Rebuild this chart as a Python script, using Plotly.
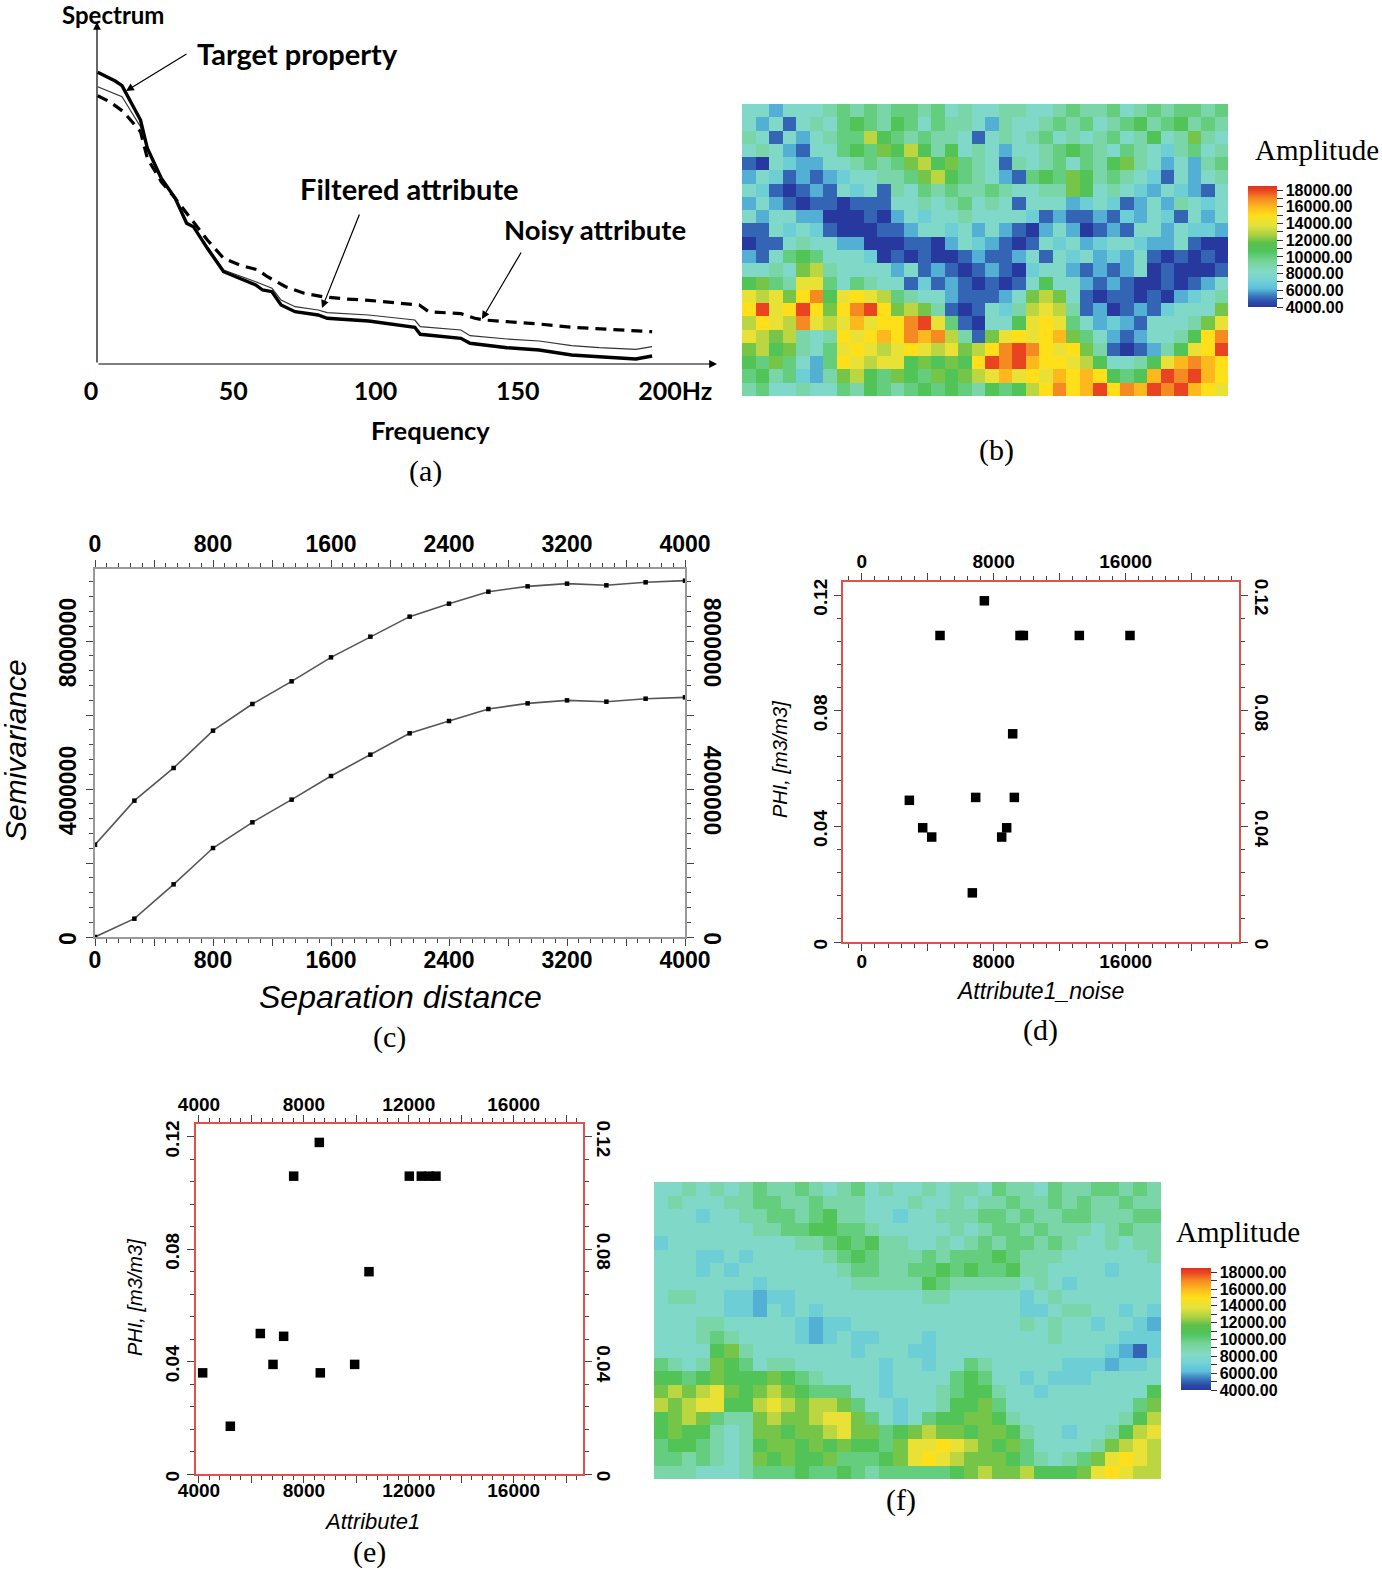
import numpy as np
import plotly.graph_objects as go

W, H = 1382, 1570

# panel (a) spectra
freq_target = [2.35, 8.5, 10.9, 14.2, 17.4, 19.8, 24.7, 29.6, 33.6, 36.0, 40.9, 46.6, 52.2, 57.9, 60.3, 63.6, 66.8,
               71.7, 79.8, 83.0, 97.6, 105.7, 113.8, 115.7, 130.0, 133.2, 146.2, 157.5, 168.9, 178.6, 191.5, 197.2]
spec_target = [291.7, 283, 278.3, 260.7, 244, 215.7, 185.7, 165.7, 140.7, 137.3, 115.7, 92.3, 85.7, 79, 74, 72.3, 59,
               52.3, 49, 45.7, 43, 39.7, 36.7, 29.7, 25.7, 20.7, 16.3, 14, 9, 7.3, 5, 8]
freq_filtered = [2.35, 10.9, 14.2, 17.4, 19.8, 24.7, 29.6, 33.6, 36.0, 40.9, 46.6, 57.9, 63.6, 66.8, 71.7, 79.8, 83.0,
                 97.6, 105.7, 113.8, 115.7, 130.0, 133.2, 146.2, 157.5, 168.9, 178.6, 191.5, 197.2]
spec_filtered = [277.3, 267.3, 252, 237.3, 215.7, 185.7, 165.7, 140.7, 137.3, 116.7, 94, 82.3, 75.7, 64, 57.3, 54, 51.3,
                 49, 46.3, 44, 37.3, 34, 28.3, 25, 23, 18.3, 16.3, 14.7, 17.3]
freq_noisy = [2.35, 6.9, 11.4, 17.4, 19.8, 24.7, 29.6, 36.0, 40.9, 46.6, 52.2, 58.7, 62.0, 68.4, 74.9, 81.4, 89.5,
              97.6, 105.7, 115.4, 118.7, 130.0, 134.9, 138.1, 146.2, 157.5, 168.9, 178.6, 191.5, 197.2]
spec_noisy = [268.3, 261.7, 252.3, 232.3, 205.7, 182.3, 165.7, 142.3, 124, 105.7, 99, 94, 87.3, 77.3, 70.7, 67.3, 65,
              63.7, 61.7, 59, 52.3, 50.3, 45.7, 44, 42.3, 40, 36.7, 35, 33, 32.3]
freq_ticks = [0, 50, 100, 150, 205.3]
freq_labels = ["0", "50", "100", "150", "200Hz"]

# panel (c) semivariograms
lag = [0, 267, 533, 800, 1067, 1333, 1600, 1867, 2133, 2400, 2667, 2933, 3200, 3467, 3733, 4000]
semi_upper = [2495000, 3685000, 4568000, 5577000, 6297000, 6910000, 7558000, 8117000, 8658000, 9009000, 9333000,
              9477000, 9550000, 9505000, 9586000, 9631000]
semi_lower = [0, 495000, 1423000, 2405000, 3099000, 3712000, 4351000, 4928000, 5505000, 5838000, 6162000, 6315000,
              6396000, 6360000, 6441000, 6477000]
lag_ticks = list(range(0, 4001, 400))
lag_labels = ["0", "", "800", "", "1600", "", "2400", "", "3200", "", "4000"]
semi_ticks = list(range(0, 10000001, 2000000))
semi_labels = ["0", "", "4000000", "", "8000000", ""]

# panels (d), (e) crossplots
noise_x = [4747, 7434, 9595, 9797, 13190, 16261, 9151, 2889, 6908, 9252, 3697, 4242, 8787, 8484, 6706]
noise_y = [0.106, 0.118, 0.106, 0.106, 0.106, 0.106, 0.072, 0.049, 0.05, 0.05, 0.0395, 0.0363, 0.0395, 0.0363, 0.017]
attr_x = [4140, 5195, 6339, 7228, 6822, 7610, 8588, 8626, 9936, 10482, 12020, 12478, 12780, 13037]
attr_y = [0.036, 0.017, 0.05, 0.049, 0.039, 0.106, 0.118, 0.036, 0.039, 0.072, 0.106, 0.106, 0.106, 0.106]
phi_ticks = [0, 0.04, 0.08, 0.12]
phi_labels = ["0", "0.04", "0.08", "0.12"]
noise_ticks = list(range(0, 24001, 4000))
noise_labels = ["0", "", "8000", "", "16000", "", ""]
attr_ticks = list(range(4000, 18001, 2000))
attr_labels = ["4000", "", "8000", "", "12000", "", "16000", ""]

# amplitude maps, thousands on a coarse grid
amp_noisy = [
    [8, 8, 6, 8, 8, 8, 9, 10, 9, 10, 9, 10, 10, 9, 10, 8, 9, 8, 8, 9, 9, 8, 8, 9, 10, 9, 9, 10, 8, 9, 10, 9, 10, 10, 9, 10],
    [8, 6, 8, 5, 8, 9, 8, 10, 11, 10, 9, 11, 10, 8, 10, 9, 9, 8, 6, 9, 8, 8, 9, 10, 9, 10, 8, 9, 10, 11, 9, 10, 11, 9, 10, 9],
    [9, 8, 5, 8, 6, 8, 9, 10, 10, 13, 11, 10, 9, 10, 9, 9, 8, 5, 8, 9, 8, 9, 10, 8, 9, 8, 9, 10, 8, 9, 11, 8, 9, 12, 9, 8],
    [8, 9, 8, 6, 5, 8, 8, 10, 11, 10, 12, 11, 13, 11, 9, 11, 8, 9, 8, 6, 8, 8, 9, 10, 11, 10, 9, 8, 10, 9, 8, 7, 9, 10, 8, 9],
    [5, 4, 8, 7, 6, 6, 8, 8, 9, 10, 9, 10, 12, 13, 11, 12, 10, 9, 8, 5, 9, 8, 9, 10, 8, 10, 9, 11, 12, 9, 8, 6, 8, 6, 9, 10],
    [6, 8, 7, 5, 6, 5, 6, 7, 8, 8, 9, 9, 10, 12, 13, 11, 10, 9, 8, 6, 5, 10, 11, 10, 12, 11, 9, 10, 9, 8, 7, 5, 8, 6, 8, 9],
    [8, 7, 5, 4, 5, 6, 5, 8, 7, 8, 5, 9, 8, 10, 9, 10, 9, 9, 10, 9, 8, 8, 9, 9, 12, 11, 8, 9, 8, 7, 6, 8, 7, 6, 5, 8],
    [6, 8, 6, 5, 4, 5, 5, 4, 5, 5, 5, 8, 8, 9, 8, 9, 10, 8, 9, 8, 5, 8, 8, 8, 6, 7, 8, 7, 5, 6, 8, 6, 9, 8, 7, 8],
    [8, 6, 8, 8, 6, 6, 4, 4, 4, 5, 4, 6, 8, 7, 8, 8, 9, 8, 8, 8, 8, 7, 5, 6, 5, 5, 6, 5, 7, 6, 8, 7, 5, 8, 6, 8],
    [5, 5, 8, 7, 8, 7, 5, 4, 4, 4, 5, 5, 6, 8, 8, 7, 8, 6, 8, 6, 5, 4, 6, 8, 6, 4, 5, 6, 5, 8, 8, 6, 8, 7, 7, 6],
    [4, 5, 5, 8, 9, 8, 8, 6, 6, 4, 4, 4, 5, 5, 4, 6, 8, 7, 6, 5, 4, 5, 8, 7, 8, 6, 7, 8, 8, 7, 6, 6, 8, 5, 4, 4],
    [6, 5, 8, 10, 11, 10, 8, 8, 8, 7, 4, 5, 4, 5, 4, 4, 5, 6, 5, 5, 6, 8, 5, 8, 7, 8, 6, 7, 6, 8, 5, 4, 5, 4, 5, 4],
    [8, 8, 9, 8, 12, 13, 9, 8, 8, 8, 8, 6, 8, 5, 6, 5, 4, 5, 6, 5, 4, 7, 8, 8, 6, 5, 6, 5, 6, 8, 4, 5, 4, 4, 4, 5],
    [11, 12, 10, 9, 14, 14, 10, 8, 10, 9, 8, 8, 5, 7, 5, 6, 5, 4, 5, 4, 5, 8, 11, 8, 8, 6, 5, 6, 5, 4, 4, 5, 4, 5, 6, 8],
    [14, 13, 14, 12, 15, 17, 11, 14, 15, 14, 13, 10, 9, 8, 8, 6, 5, 5, 5, 6, 8, 12, 13, 12, 8, 5, 4, 5, 5, 4, 5, 4, 6, 7, 8, 9],
    [15, 18, 14, 15, 18, 15, 12, 15, 17, 18, 15, 12, 13, 12, 9, 5, 4, 5, 8, 7, 9, 13, 14, 13, 9, 5, 6, 4, 5, 6, 5, 7, 8, 8, 8, 12],
    [13, 15, 14, 13, 17, 14, 13, 14, 16, 14, 15, 15, 17, 18, 14, 10, 5, 4, 8, 8, 11, 14, 15, 14, 10, 8, 6, 7, 6, 5, 8, 8, 8, 9, 12, 14],
    [14, 13, 12, 13, 9, 8, 9, 15, 14, 15, 16, 15, 17, 16, 17, 13, 9, 5, 12, 14, 15, 14, 15, 16, 12, 10, 8, 6, 5, 6, 8, 8, 9, 11, 15, 17],
    [12, 13, 11, 12, 9, 8, 10, 14, 15, 14, 13, 14, 15, 14, 13, 14, 12, 13, 15, 17, 18, 17, 15, 14, 15, 12, 9, 5, 4, 5, 6, 9, 11, 14, 15, 18],
    [11, 10, 12, 10, 8, 6, 10, 15, 14, 13, 14, 14, 11, 12, 11, 12, 11, 15, 18, 17, 18, 16, 15, 15, 14, 13, 11, 8, 8, 9, 11, 14, 16, 17, 16, 15],
    [10, 11, 9, 10, 7, 6, 9, 12, 13, 11, 10, 12, 11, 10, 12, 11, 12, 13, 14, 16, 14, 15, 14, 16, 15, 16, 15, 11, 10, 11, 16, 18, 17, 18, 16, 15],
    [9, 10, 8, 8, 9, 8, 8, 10, 9, 11, 10, 9, 10, 11, 10, 11, 10, 9, 11, 10, 11, 13, 15, 17, 15, 16, 18, 15, 17, 16, 18, 17, 18, 16, 15, 14],
]
amp_filtered = [
    [8, 8, 9, 8, 9, 8, 9, 10, 9, 9, 10, 9, 8, 9, 10, 8, 9, 8, 8, 9, 8, 9, 9, 8, 10, 9, 9, 8, 10, 9, 9, 10, 10, 9, 10, 9],
    [8, 9, 8, 8, 8, 9, 9, 10, 10, 9, 9, 10, 9, 9, 9, 8, 8, 8, 9, 8, 8, 9, 8, 9, 9, 10, 9, 9, 10, 9, 10, 9, 9, 10, 9, 9],
    [8, 8, 8, 7, 8, 8, 9, 9, 10, 10, 9, 10, 11, 9, 9, 8, 8, 7, 8, 8, 9, 9, 9, 10, 10, 9, 10, 9, 9, 10, 10, 9, 9, 9, 10, 10],
    [8, 8, 8, 8, 8, 8, 8, 9, 9, 10, 10, 11, 11, 10, 10, 9, 8, 8, 8, 8, 8, 9, 8, 9, 10, 10, 9, 10, 9, 9, 9, 8, 9, 10, 9, 9],
    [7, 8, 8, 8, 8, 8, 8, 8, 8, 8, 9, 9, 10, 11, 10, 11, 9, 9, 8, 8, 9, 8, 9, 10, 9, 10, 10, 9, 10, 9, 8, 8, 9, 8, 9, 9],
    [8, 8, 8, 7, 7, 8, 7, 8, 8, 8, 8, 8, 9, 10, 11, 10, 9, 9, 9, 10, 9, 10, 10, 10, 11, 10, 9, 9, 9, 8, 8, 8, 8, 8, 8, 9],
    [8, 8, 8, 7, 8, 7, 8, 8, 8, 8, 8, 8, 8, 9, 10, 10, 9, 9, 10, 10, 11, 10, 11, 10, 10, 11, 9, 9, 8, 8, 8, 8, 7, 8, 8, 8],
    [8, 8, 8, 8, 8, 8, 8, 7, 8, 8, 8, 8, 8, 8, 9, 9, 9, 9, 9, 11, 10, 9, 9, 9, 9, 9, 8, 9, 8, 7, 8, 8, 8, 8, 8, 8],
    [8, 9, 9, 8, 8, 7, 7, 6, 7, 7, 8, 8, 8, 8, 8, 8, 8, 8, 8, 9, 9, 8, 8, 8, 8, 8, 7, 8, 9, 8, 8, 8, 8, 8, 8, 8],
    [8, 8, 8, 8, 8, 7, 7, 6, 8, 7, 8, 7, 8, 8, 8, 8, 8, 8, 8, 8, 8, 8, 8, 8, 8, 8, 7, 7, 8, 9, 9, 8, 8, 7, 8, 7],
    [8, 8, 8, 9, 9, 8, 8, 8, 8, 8, 7, 6, 7, 7, 8, 8, 8, 8, 8, 8, 8, 8, 8, 8, 8, 8, 9, 8, 9, 8, 8, 7, 8, 8, 7, 6],
    [8, 8, 8, 9, 10, 9, 8, 8, 8, 8, 7, 6, 7, 8, 7, 7, 8, 8, 8, 7, 8, 8, 8, 8, 8, 8, 8, 8, 9, 8, 8, 8, 8, 7, 7, 7],
    [8, 8, 8, 8, 11, 12, 9, 8, 8, 8, 8, 8, 8, 8, 7, 8, 8, 8, 7, 7, 8, 8, 8, 8, 8, 8, 8, 8, 8, 8, 8, 8, 7, 6, 5, 7],
    [10, 9, 8, 9, 12, 11, 10, 8, 9, 9, 8, 8, 8, 8, 8, 8, 7, 8, 8, 7, 8, 8, 10, 9, 8, 8, 8, 8, 8, 7, 7, 7, 6, 7, 7, 8],
    [11, 11, 10, 11, 12, 11, 11, 11, 12, 11, 10, 9, 8, 8, 8, 8, 7, 8, 8, 8, 8, 10, 11, 10, 8, 8, 7, 8, 7, 7, 7, 8, 8, 8, 8, 8],
    [12, 13, 12, 13, 14, 12, 11, 12, 13, 12, 11, 10, 10, 10, 8, 8, 7, 8, 8, 8, 9, 10, 11, 11, 9, 8, 8, 7, 8, 8, 8, 8, 8, 8, 8, 11],
    [13, 12, 13, 14, 14, 11, 11, 13, 14, 13, 12, 13, 13, 12, 10, 8, 8, 7, 8, 8, 9, 11, 11, 12, 10, 8, 8, 8, 8, 8, 8, 8, 8, 8, 10, 12],
    [11, 12, 13, 12, 10, 9, 9, 12, 13, 12, 12, 13, 14, 14, 12, 10, 8, 7, 8, 10, 11, 11, 12, 12, 11, 9, 8, 8, 8, 8, 8, 8, 8, 9, 11, 13],
    [11, 12, 11, 11, 9, 8, 9, 12, 12, 11, 12, 12, 13, 14, 12, 12, 10, 11, 12, 13, 12, 12, 11, 12, 12, 11, 9, 8, 8, 7, 8, 8, 9, 11, 13, 14],
    [10, 11, 11, 10, 9, 8, 9, 11, 12, 12, 11, 12, 11, 12, 11, 11, 10, 12, 14, 14, 15, 14, 13, 12, 11, 12, 10, 8, 8, 8, 8, 9, 12, 13, 14, 13],
    [10, 10, 9, 10, 9, 8, 9, 12, 11, 12, 11, 11, 12, 10, 10, 10, 11, 12, 14, 15, 14, 13, 12, 12, 12, 11, 10, 9, 8, 9, 10, 12, 14, 15, 14, 13],
    [9, 9, 9, 8, 8, 8, 9, 10, 10, 10, 11, 10, 10, 11, 10, 9, 10, 10, 10, 10, 10, 11, 12, 13, 12, 12, 13, 11, 11, 11, 12, 14, 15, 14, 13, 13],
]
amp_ticks = list(range(4000, 18001, 1000))
amp_labels = ["4000.00", "", "6000.00", "", "8000.00", "", "10000.00", "", "12000.00", "", "14000.00", "", "16000.00",
              "", "18000.00"]
amp_min, amp_max = 4000, 18500
cmap_values = [4000, 4600, 5400, 6200, 7200, 8200, 9500, 10700, 11700, 12600, 13800, 15000, 16000, 17000, 18000, 18500]
cmap_colors = ["#27399e", "#2c4ba8", "#3c7dc0", "#5cbfdc", "#72d2d4", "#84dac6", "#74d496", "#4ec45c", "#5cc04a",
               "#a8d044", "#e4e23c", "#ffde1a", "#fdb81e", "#f68a22", "#ea4322", "#e03020"]


def dom_x(left, right):
    return [left / W, right / W]


def dom_y(top, bottom):
    return [1 - bottom / H, 1 - top / H]


def px(x):
    return x / W


def py(y):
    return 1 - y / H


fig = go.Figure()


def label(text, x, y, size, font="Liberation Sans", bold=False, italic=False, angle=0):
    fig.add_annotation(
        text=f"<b>{text}</b>" if bold else (f"<i>{text}</i>" if italic else text),
        x=px(x), y=py(y), xref="paper", yref="paper", showarrow=False, xanchor="center", yanchor="middle",
        textangle=angle, font=dict(family=font, size=size, color="black"))


def arrow(x0, y0, x1, y1, width=1.2, head=2):
    fig.add_annotation(
        x=px(x1), y=py(y1), xref="paper", yref="paper", text="", showarrow=True, ax=x0 - x1, ay=y0 - y1,
        axref="pixel", ayref="pixel", arrowcolor="black", arrowwidth=width, arrowhead=head, arrowsize=1.3)


def framed_axes(n, box, xr, yr, xticks, xlabels, yticks, ylabels, xminor, yminor, frame, lw, fs, stand):
    # four-sided frame: bottom and left on axes n, top and right on axes n+1
    left, right, top, bottom = box
    st_top, st_bottom, st_left, st_right = stand
    tick = "#444444"
    font = dict(family="Liberation Sans", size=fs, color="black", weight="bold")
    xkw = dict(domain=dom_x(left, right), range=xr, tickmode="array", tickvals=xticks, ticktext=xlabels,
               ticks="outside", ticklen=7, tickcolor=tick, showline=True, linecolor=frame, linewidth=lw,
               showgrid=False, zeroline=False, tickfont=font, tickangle=0,
               minor=dict(tick0=xticks[0], dtick=xminor, ticks="outside", ticklen=4, tickcolor=tick, showgrid=False))
    ykw = dict(domain=dom_y(top, bottom), range=yr, tickmode="array", tickvals=yticks, ticktext=ylabels,
               ticks="outside", ticklen=7, tickcolor=tick, showline=True, linecolor=frame, linewidth=lw,
               showgrid=False, zeroline=False, tickfont=font, ticklabelshift=5,
               minor=dict(tick0=0, dtick=yminor, ticks="outside", ticklen=4, tickcolor=tick, showgrid=False))
    s1, s2 = ("" if n == 1 else str(n)), str(n + 1)
    fig.update_layout({
        "xaxis" + s1: dict(xkw, side="bottom", anchor="y" + s1, ticklabelstandoff=st_bottom),
        "yaxis" + s1: dict(ykw, side="left", anchor="x" + s1, tickangle=-90, ticklabelstandoff=st_left),
        "xaxis" + s2: dict(xkw, side="top", anchor="y" + s2, overlaying="x" + s1, ticklabelstandoff=st_top),
        "yaxis" + s2: dict(ykw, side="right", anchor="x" + s2, overlaying="y" + s1, tickangle=90,
                           ticklabelstandoff=st_right),
    })
    return "x" + s1, "y" + s1, "x" + s2, "y" + s2


def scatter_panel(n, box, xr, yr, xticks, xlabels, xminor, xs, ys, stand):
    xa, ya, xb, yb = framed_axes(n, box, xr, yr, xticks, xlabels, phi_ticks, phi_labels, xminor, 0.008,
                                 "#e2504c", 2, 19, stand)
    fig.add_trace(go.Scatter(x=xs, y=ys, xaxis=xa, yaxis=ya, mode="markers", showlegend=False,
                             marker=dict(symbol="square", size=9.5, color="black")))
    fig.add_trace(go.Scatter(x=xs, y=ys, xaxis=xb, yaxis=yb, mode="markers", showlegend=False, hoverinfo="skip",
                             marker=dict(opacity=0)))


# (c)
xa, ya, xb, yb = framed_axes(1, (95, 685, 569, 937), [0, 4000], [0, 9946000], lag_ticks, lag_labels, semi_ticks,
                             semi_labels, 80, 400000, "#999999", 2, 23, (-1, -6, 1, 1))
for semi in (semi_upper, semi_lower):
    fig.add_trace(go.Scatter(x=lag, y=semi, xaxis=xa, yaxis=ya, mode="lines+markers", showlegend=False,
                             line=dict(color="#555555", width=1.6),
                             marker=dict(symbol="square", size=4.5, color="black")))
fig.add_trace(go.Scatter(x=lag, y=semi_upper, xaxis=xb, yaxis=yb, mode="markers", showlegend=False, hoverinfo="skip",
                         marker=dict(opacity=0)))

# (d)
scatter_panel(3, (843, 1239, 582, 942), [-1133, 22867], [0, 0.1245], noise_ticks, noise_labels, 800, noise_x, noise_y,
              (-3, -6, -1, -1))
# (e)
scatter_panel(5, (196, 583, 1124, 1474), [3886, 18643], [0, 0.12456], attr_ticks, attr_labels, 400, attr_x, attr_y,
              (-4, -9, 0, -3))

# (a)
fig.update_layout(
    xaxis7=dict(domain=dom_x(91, 717), range=[0, 220], tickmode="array", tickvals=freq_ticks, ticktext=freq_labels,
                showline=False, showgrid=False, zeroline=False, ticks="", ticklabelstandoff=10, anchor="y7",
                tickfont=dict(family="Lato", size=25, color="black", weight="bold"), tickangle=0),
    yaxis7=dict(domain=dom_y(22, 364), range=[0, 342], visible=False, anchor="x7"),
)
fig.add_trace(go.Scatter(x=freq_noisy, y=spec_noisy, xaxis="x7", yaxis="y7", mode="lines", showlegend=False,
                         line=dict(color="black", width=3.2, dash="11px,7px")))
fig.add_trace(go.Scatter(x=freq_filtered, y=spec_filtered, xaxis="x7", yaxis="y7", mode="lines", showlegend=False,
                         line=dict(color="#333333", width=1.2)))
fig.add_trace(go.Scatter(x=freq_target, y=spec_target, xaxis="x7", yaxis="y7", mode="lines", showlegend=False,
                         line=dict(color="black", width=3.4)))

# (b), (f)
cmap = [[(v - amp_min) / (amp_max - amp_min), c] for v, c in zip(cmap_values, cmap_colors)]


def amp_map(n, box, z, bar):
    left, right, top, bottom = box
    bl, br, bt, bb = bar
    zarr = np.array(z) * 1000
    fig.update_layout({
        f"xaxis{n}": dict(domain=dom_x(left, right), range=[-0.5, zarr.shape[1] - 0.5], visible=False, anchor=f"y{n}"),
        f"yaxis{n}": dict(domain=dom_y(top, bottom), range=[zarr.shape[0] - 0.5, -0.5], visible=False, anchor=f"x{n}"),
    })
    fig.add_trace(go.Heatmap(
        z=zarr, xaxis=f"x{n}", yaxis=f"y{n}", colorscale=cmap, zmin=amp_min, zmax=amp_max,
        colorbar=dict(x=px(bl), xanchor="left", y=py(bb), yanchor="bottom", len=(bb - bt) / H, lenmode="fraction",
                      thickness=br - bl, thicknessmode="pixels", xpad=0, ypad=0, outlinewidth=0,
                      tickmode="array", tickvals=amp_ticks, ticktext=amp_labels, ticks="outside", ticklen=6,
                      tickcolor="#333333", tickfont=dict(family="Liberation Sans", size=16, color="black", weight="bold"))))


amp_map(8, (742, 1228, 104, 396), amp_noisy, (1248, 1277, 186, 307))
amp_map(9, (654, 1161, 1182, 1479), amp_filtered, (1181, 1211, 1268, 1390))

# text for (a)
label("Spectrum", 113, 15, 24, font="Lato", bold=True)
label("Target property", 297, 54, 29, font="Lato", bold=True)
label("Filtered attribute", 409, 189, 29, font="Lato", bold=True)
label("Noisy attribute", 595, 230, 27.5, font="Lato", bold=True)
label("Frequency", 430, 430, 25.5, font="Lato", bold=True)
arrow(97, 364, 97, 22)
arrow(97, 364, 717, 364)
arrow(188, 53, 126, 91)
arrow(360, 213, 322, 308)
arrow(522, 251, 482, 319)

# titles for (c), (d), (e), maps
label("Semivariance", 15, 750, 30, italic=True, angle=-90)
label("Separation distance", 400, 997, 32, italic=True)
label("PHI, [m3/m3]", 780, 760, 20, italic=True, angle=-90)
label("Attribute1_noise", 1040, 991, 23, italic=True)
label("PHI, [m3/m3]", 135, 1298, 20, italic=True, angle=-90)
label("Attribute1", 372, 1521, 22, italic=True)
label("Amplitude", 1317, 150, 29, font="Liberation Serif")
label("Amplitude", 1238, 1232, 29, font="Liberation Serif")

# captions
for cap, cx, cy in [("(a)", 425, 471), ("(b)", 996, 450), ("(c)", 389, 1037), ("(d)", 1040, 1030), ("(e)", 369, 1552),
                    ("(f)", 901, 1500)]:
    label(cap, cx, cy, 30, font="Liberation Serif")

fig.update_layout(width=W, height=H, margin=dict(l=0, r=0, t=0, b=0, autoexpand=False), paper_bgcolor="white",
                  plot_bgcolor="white", showlegend=False)

fig.write_html("out.html", config={"displayModeBar": False}, post_script="document.body.style.margin='0';")
